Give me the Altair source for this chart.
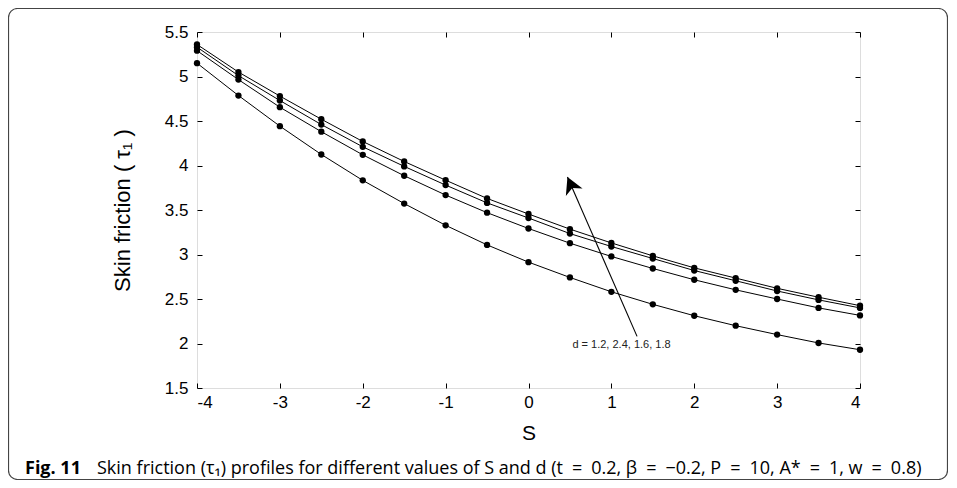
import altair as alt
import pandas as pd

# ---- data ----
S = [-4, -3.5, -3, -2.5, -2, -1.5, -1, -0.5, 0, 0.5, 1, 1.5, 2, 2.5, 3, 3.5, 4]
tau_d18 = [5.36, 5.05, 4.78, 4.52, 4.27, 4.045, 3.835, 3.63, 3.455, 3.285, 3.13, 2.985, 2.85, 2.735, 2.62, 2.52, 2.425]
tau_d16 = [5.33, 5.01, 4.73, 4.46, 4.21, 3.99, 3.78, 3.58, 3.41, 3.235, 3.09, 2.955, 2.82, 2.705, 2.59, 2.49, 2.40]
tau_d24 = [5.29, 4.965, 4.655, 4.38, 4.12, 3.885, 3.668, 3.47, 3.292, 3.127, 2.978, 2.843, 2.716, 2.603, 2.50, 2.40, 2.316]
tau_d12 = [5.15, 4.786, 4.442, 4.124, 3.833, 3.572, 3.328, 3.108, 2.914, 2.742, 2.581, 2.44, 2.312, 2.20, 2.10, 2.006, 1.93]
d_values = ["1.8", "1.6", "2.4", "1.2"]

x_ticks = [-4, -3, -2, -1, 0, 1, 2, 3, 4]
y_ticks = [1.5, 2, 2.5, 3, 3.5, 4, 4.5, 5, 5.5]

arrow_x = [1.31, 0.47]   # tail, tip
arrow_y = [2.08, 3.87]
label_text = "d = 1.2, 2.4, 1.6, 1.8"
label_pos = [0.53, 1.98]

x_title = "S"
y_title = "Skin friction ( τ₁ )"
fig_label = "Fig. 11"
sp = "\u2002"
caption = ("Skin friction (τ₁) profiles for different values of S and d "
           f"(t{sp}={sp}0.2, β{sp}={sp}−0.2, P{sp}={sp}10, A*{sp}={sp}1, w{sp}={sp}0.8)")

# ---- build tables ----
rows = []
for d, series in zip(d_values, [tau_d18, tau_d16, tau_d24, tau_d12]):
    for s, t in zip(S, series):
        rows.append({"S": s, "tau": t, "d": d})
df = pd.DataFrame(rows)

arrow_df = pd.DataFrame({"x": [arrow_x[0]], "y": [arrow_y[0]], "x2": [arrow_x[1]], "y2": [arrow_y[1]]})
head_df = pd.DataFrame({"x": [arrow_x[1]], "y": [arrow_y[1]]})
label_df = pd.DataFrame({"x": [label_pos[0]], "y": [label_pos[1]], "t": [label_text]})
fig_df = pd.DataFrame({"t": [fig_label]})
cap_df = pd.DataFrame({"t": [caption]})
frame_df = pd.DataFrame({"a": [0]})

W, H = 663, 356
FONT = "Liberation Sans"

xs = alt.Scale(domain=[-4, 4], nice=False, zero=False)
ys = alt.Scale(domain=[1.5, 5.5], nice=False, zero=False)

x_axis = alt.Axis(orient="bottom", values=x_ticks, labelExpr="'' + datum.value", offset=-5, tickSize=5,
                  domain=False, grid=False, labelPadding=6, labelFontSize=17, labelFont=FONT,
                  labelColor="black", tickColor="black", title=x_title, titleFont=FONT, titleFontSize=21,
                  titleFontWeight="normal", titleColor="black", titlePadding=12)
y_axis = alt.Axis(orient="left", values=y_ticks, labelExpr="'' + datum.value", offset=-5, tickSize=5,
                  domain=False, grid=False, labelPadding=9, labelFontSize=17, labelFont=FONT,
                  labelColor="black", tickColor="black", title=y_title, titleFont=FONT, titleFontSize=22,
                  titleFontWeight="normal", titleColor="black", titlePadding=30)

base = alt.Chart(df)
lines = base.mark_line(color="black", strokeWidth=1).encode(
    x=alt.X("S:Q", scale=xs, axis=x_axis),
    y=alt.Y("tau:Q", scale=ys, axis=y_axis),
    detail="d:N",
)
points = base.mark_circle(color="black", opacity=1, size=40).encode(
    x=alt.X("S:Q", scale=xs), y=alt.Y("tau:Q", scale=ys), detail="d:N"
)
arrow = alt.Chart(arrow_df).mark_rule(color="black", strokeWidth=1.1).encode(
    x=alt.X("x:Q", scale=xs), y=alt.Y("y:Q", scale=ys), x2="x2:Q", y2="y2:Q"
)
head = alt.Chart(head_df).mark_point(
    shape="M0,0 L0.55,1 L0,0.72 L-0.55,1 Z", filled=True, color="black", opacity=1,
    size=1100, angle=336, strokeWidth=0
).encode(x=alt.X("x:Q", scale=xs), y=alt.Y("y:Q", scale=ys))
label = alt.Chart(label_df).mark_text(
    align="left", baseline="middle", fontSize=11, font=FONT, color="#222"
).encode(x=alt.X("x:Q", scale=xs), y=alt.Y("y:Q", scale=ys), text="t:N")

fig_txt = alt.Chart(fig_df).mark_text(
    align="left", baseline="alphabetic", fontSize=18, font="Open Sans", fontWeight="bold", color="black"
).encode(x=alt.value(-172), y=alt.value(442), text="t:N")
cap_txt = alt.Chart(cap_df).mark_text(
    align="left", baseline="alphabetic", fontSize=18, font="Open Sans", color="black"
).encode(x=alt.value(-100), y=alt.value(442), text="t:N")
frame = alt.Chart(frame_df).mark_rect(
    fillOpacity=0, stroke="#444", strokeWidth=1.2, cornerRadius=9
).encode(x=alt.value(-188.5), x2=alt.value(750.5), y=alt.value(-23.5), y2=alt.value(447.5))

main = alt.layer(lines, points, arrow, head, label, fig_txt, cap_txt, frame)

mirror = alt.Chart(df).mark_point(opacity=0).encode(
    x=alt.X("S:Q", scale=xs, axis=alt.Axis(orient="top", values=x_ticks, labels=False, offset=-5,
                                            tickSize=5, domain=False, grid=False, title=None, tickColor="black")),
    y=alt.Y("tau:Q", scale=ys, axis=alt.Axis(orient="right", values=y_ticks, labels=False, offset=-5,
                                              tickSize=5, domain=False, grid=False, title=None, tickColor="black")),
)

chart = alt.layer(main, mirror).resolve_scale(x="independent", y="independent").properties(
    width=W, height=H,
    autosize=alt.AutoSizeParams(type="none"),
    padding={"left": 189, "top": 24, "right": 88, "bottom": 92},
).configure_view(stroke="black", strokeWidth=1).configure(background="white")

chart.save("out.html", embed_options={"renderer": "svg", "actions": False})
